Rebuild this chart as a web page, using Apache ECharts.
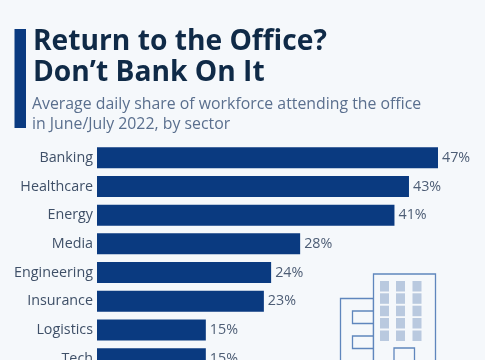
<!DOCTYPE html>
<html>
<head>
<meta charset="utf-8">
<style>
  html, body { margin: 0; padding: 0; background: #f5f8fb; }
  #main { width: 485px; height: 360px; }
</style>
<script src="https://cdn.jsdelivr.net/npm/echarts@6/dist/echarts.min.js"></script>
</head>
<body>
<div id="main"></div>
<script>
var sectors = ['Banking', 'Healthcare', 'Energy', 'Media', 'Engineering', 'Insurance', 'Logistics', 'Tech'];
var shares = [47, 43, 41, 28, 24, 23, 15, 15];
var titleLines = 'Return to the Office?\nDon\u2019t Bank On It';
var subtitleLines = 'Average daily share of workforce attending the office\nin June/July 2022, by sector';

var chart = echarts.init(document.getElementById('main'));

// little office building bottom right
var outline = { fill: '#f5f8fb', stroke: '#5f86bd', lineWidth: 1.3 };
var icon = [
    { type: 'rect', shape: { x: 340.5, y: 298.5, width: 33, height: 80 }, style: outline },
    { type: 'rect', shape: { x: 352.5, y: 311, width: 21, height: 12.5 }, style: outline },
    { type: 'rect', shape: { x: 352.5, y: 336, width: 21, height: 12.5 }, style: outline },
    { type: 'rect', shape: { x: 373.5, y: 274, width: 62, height: 100 }, style: outline },
    { type: 'rect', shape: { x: 394, y: 348, width: 20.5, height: 30 }, style: outline }
];
[380, 396, 412.5].forEach(function (x) {
    [281, 293.3, 305.7, 318, 330.5].forEach(function (y) {
        icon.push({ type: 'rect', shape: { x: x, y: y, width: 9, height: 10.5 }, style: { fill: '#b9c9df' } });
    });
});

var option = {
    backgroundColor: '#f5f8fb',
    animation: false,
    title: [
        {
            text: titleLines,
            left: 33,
            top: 26,
            textStyle: { fontFamily: 'Open Sans', fontWeight: 'bold', fontSize: 28.2, lineHeight: 31, color: '#0f2a47' },
            padding: 0
        },
        {
            text: subtitleLines,
            left: 32,
            top: 95,
            textStyle: { fontFamily: 'Open Sans', fontWeight: 'normal', fontSize: 15.85, lineHeight: 19.5, color: '#5a6f8e' },
            padding: 0
        }
    ],
    graphic: [
        { type: 'rect', shape: { x: 14.5, y: 29, width: 11.5, height: 99 }, style: { fill: '#0a3a80' } }
    ].concat(icon),
    // Tech row runs past the bottom edge of the picture, so no clamping to the canvas
    grid: { left: 97, top: 143.4, width: 341, height: 229.6, outerBoundsMode: 'none' },
    xAxis: { type: 'value', min: 0, max: 47, show: false },
    yAxis: {
        type: 'category',
        inverse: true,
        data: sectors,
        axisLine: { show: false },
        axisTick: { show: false },
        axisLabel: { fontFamily: 'Open Sans', fontSize: 14.3, color: '#3f5068', margin: 4, padding: [2, 0, 0, 0] }
    },
    series: [
        {
            type: 'bar',
            data: shares,
            barWidth: 21,
            itemStyle: { color: '#0a3a80' },
            label: {
                show: true,
                position: 'right',
                distance: 4,
                formatter: '{c}%',
                fontFamily: 'Open Sans',
                fontSize: 14.3,
                color: '#4d5d75',
                padding: [2, 0, 0, 0]
            }
        }
    ]
};
chart.setOption(option);
</script>
</body>
</html>
